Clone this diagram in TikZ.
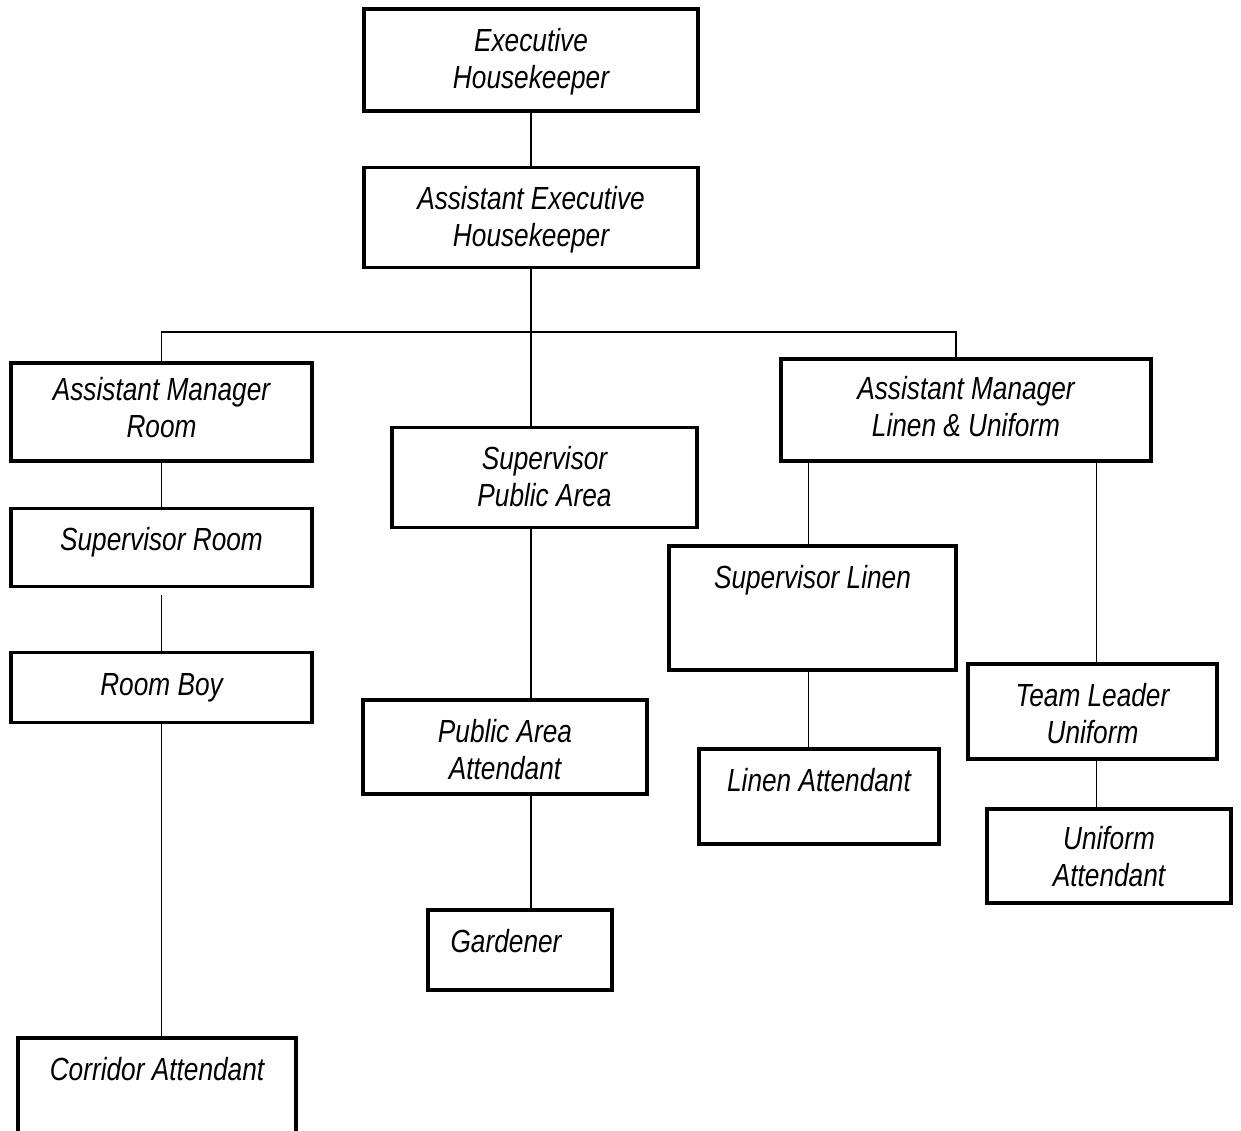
\documentclass[tikz,border=0pt]{standalone}
\usepackage{fontspec}
\setmainfont{Liberation Sans}[FakeStretch=0.82]
\usetikzlibrary{positioning}

\tikzset{
  orgbox/.style={draw, line width=3.5pt, inner sep=0pt, outer sep=0pt},
  orgtext/.style={font=\itshape\fontsize{32}{37}\selectfont, align=center, inner sep=0pt},
  link/.style={line width=1.8pt}
}

\begin{document}
\begin{tikzpicture}[x=1pt, y=-1pt]

            \def \gap {19pt} % distance from box top to the first line of text

            \clip (0,0) rectangle (1241,1131);
            \fill[white] (0,0) rectangle (1241,1131);

            % boxes
            \node[orgbox, minimum width=334pt, minimum height=102pt] (exec) at (531,60) {};
            \node[orgbox, minimum width=334pt, minimum height=100pt] (aeh) at (531,217.5) {};
            \node[orgbox, minimum width=301pt, minimum height=98pt] (amroom) at (161.5,412) {};
            \node[orgbox, minimum width=301pt, minimum height=78pt] (suproom) at (161.5,547.5) {};
            \node[orgbox, minimum width=301pt, minimum height=70pt] (roomboy) at (161.5,687.5) {};
            \node[orgbox, minimum width=278pt, minimum height=140pt] (corridor) at (157,1108) {};
            \node[orgbox, minimum width=305pt, minimum height=100pt] (suppa) at (544.5,477.5) {};
            \node[orgbox, minimum width=284pt, minimum height=94pt] (paatt) at (505,747) {};
            \node[orgbox, minimum width=184pt, minimum height=80pt] (gardener) at (520,950) {};
            \node[orgbox, minimum width=370pt, minimum height=102pt] (amlinen) at (966,410) {};
            \node[orgbox, minimum width=287pt, minimum height=124pt] (suplinen) at (812.5,608) {};
            \node[orgbox, minimum width=240pt, minimum height=95pt] (linenatt) at (819,796.5) {};
            \node[orgbox, minimum width=249pt, minimum height=95pt] (teamlead) at (1092.5,711.5) {};
            \node[orgbox, minimum width=244pt, minimum height=94pt] (uniatt) at (1109,856) {};

            % labels
            \node[orgtext, below=\gap of exec.north] (execT) {Executive\\Housekeeper};
            \node[orgtext, below=\gap of aeh.north] (aehT) {Assistant Executive\\Housekeeper};
            \node[orgtext, below=14pt of amroom.north] (amroomT) {Assistant Manager\\Room};
            \node[orgtext, below=\gap of suproom.north] (suproomT) {Supervisor Room};
            \node[orgtext, below=21pt of roomboy.north] (roomboyT) {Room Boy};
            \node[orgtext, below=\gap of corridor.north] (corridorT) {Corridor Attendant};
            \node[orgtext, below=\gap of suppa.north] (suppaT) {Supervisor\\Public Area};
            \node[orgtext, below=\gap of paatt.north] (paattT) {Public Area\\Attendant};
            \node[orgtext, below=\gap of gardener.north, xshift=-14pt] (gardenerT) {Gardener};
            \node[orgtext, below=17pt of amlinen.north] (amlinenT) {Assistant Manager\\Linen \& Uniform};
            \node[orgtext, below=\gap of suplinen.north] (suplinenT) {Supervisor Linen};
            \node[orgtext, below=\gap of linenatt.north] (linenattT) {Linen Attendant};
            \node[orgtext, below=\gap of teamlead.north] (teamleadT) {Team Leader\\Uniform};
            \node[orgtext, below=17pt of uniatt.north] (uniattT) {Uniform\\Attendant};

            % connectors
            \draw[link] (exec.south) -- (aeh.south |- aeh.north);
            \draw[link] (aeh.south) -- (aeh.south |- suppa.north);
            \draw[link] (amroom.north) -- ++(0,-31) -| ([xshift=-10pt]amlinen.north);
            \draw[link] (amroom.south) -- (suproom.north);
            \draw[link] ([yshift=-8pt]suproom.south) -- (roomboy.north);
            \draw[link] (roomboy.south) -- (roomboy.south |- corridor.north);
            \draw[link] (aeh.south |- suppa.south) -- (aeh.south |- paatt.north);
            \draw[link] (aeh.south |- paatt.south) -- (aeh.south |- gardener.north);
            \draw[link] ([xshift=-4pt]suplinen.north) -- ([xshift=-4pt]suplinen.north |- amlinen.south);
            \draw[link] ([xshift=-4pt]suplinen.south) -- ([xshift=-4pt]suplinen.south |- linenatt.north);
            \draw[link] ([xshift=4pt]teamlead.north) -- ([xshift=4pt]teamlead.north |- amlinen.south);
            \draw[link] ([xshift=4pt]teamlead.south) -- ([xshift=4pt]teamlead.south |- uniatt.north);

\end{tikzpicture}
\end{document}
